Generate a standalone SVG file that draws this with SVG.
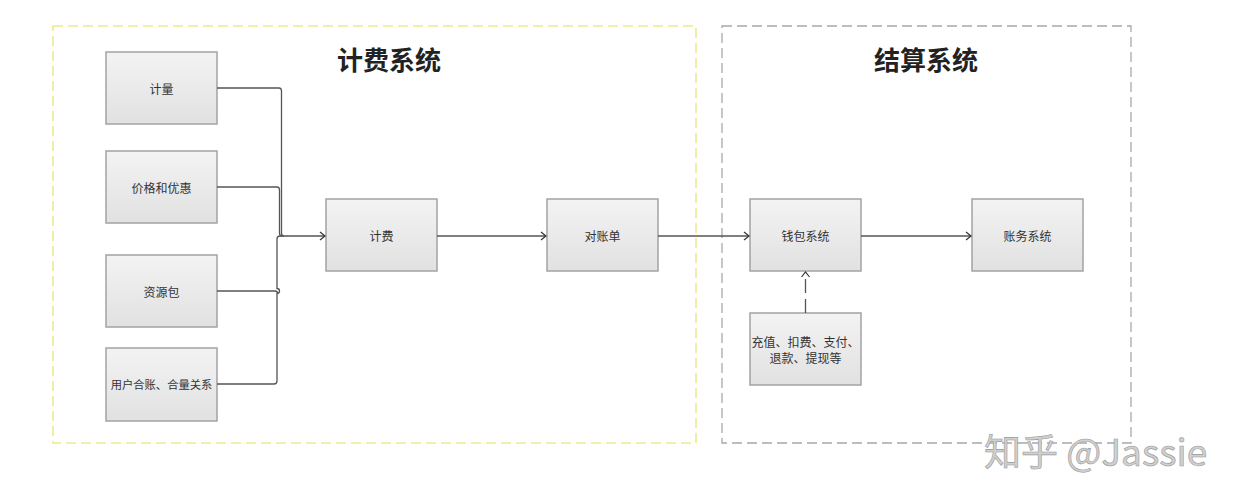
<svg xmlns="http://www.w3.org/2000/svg" width="1240" height="503" viewBox="0 0 1240 503">
<defs>
<linearGradient id="g" x1="0" y1="0" x2="0" y2="1">
<stop offset="0" stop-color="#f3f3f3"/>
<stop offset="1" stop-color="#e1e1e1"/>
</linearGradient>
<marker id="arr" markerWidth="10" markerHeight="10" refX="9" refY="5" orient="auto" markerUnits="userSpaceOnUse">
<path d="M4,1 L9,5 L4,9" fill="none" stroke="#333" stroke-width="1.2"/>
</marker>
</defs>
<style>
.box{fill:url(#g);stroke:#a3a3a3;stroke-width:1.5}
.lbl{font-family:"Noto Sans CJK SC",sans-serif;font-size:12px;fill:#333;text-anchor:middle;dominant-baseline:central}
.title{font-family:"Noto Sans CJK SC",sans-serif;font-size:26px;font-weight:bold;fill:#222;text-anchor:middle;dominant-baseline:central}
.ln{fill:none;stroke:#555;stroke-width:1.3}
</style>
<rect width="1240" height="503" fill="#fff"/>
<g id="billing-system">
<rect x="53" y="26" width="643" height="417" fill="none" stroke="#ecec8c" stroke-width="1.6" stroke-dasharray="10,5"/>
<text class="title" x="389" y="58">计费系统</text>
</g>
<g id="settlement-system">
<rect x="722" y="26" width="409" height="417" fill="none" stroke="#a8a8a8" stroke-width="1.3" stroke-dasharray="10,5"/>
<text class="title" x="926" y="58">结算系统</text>
</g>
<g id="n-metering"><rect class="box" x="106" y="52" width="111" height="72"/><text class="lbl" x="161.5" y="88">计量</text></g>
<g id="n-price"><rect class="box" x="106" y="151" width="111" height="72"/><text class="lbl" x="161.5" y="187">价格和优惠</text></g>
<g id="n-package"><rect class="box" x="106" y="255" width="111" height="72"/><text class="lbl" x="161.5" y="291">资源包</text></g>
<g id="n-account"><rect class="box" x="106" y="348" width="111" height="73"/><text class="lbl" x="161.5" y="384" style="font-size:11.3px">用户合账、合量关系</text></g>
<g id="n-billing"><rect class="box" x="326" y="199" width="111" height="72"/><text class="lbl" x="381.5" y="235">计费</text></g>
<g id="n-statement"><rect class="box" x="547" y="199" width="111" height="72"/><text class="lbl" x="602.5" y="235">对账单</text></g>
<g id="n-wallet"><rect class="box" x="750" y="199" width="111" height="72"/><text class="lbl" x="805.5" y="235">钱包系统</text></g>
<g id="n-ledger"><rect class="box" x="972" y="199" width="111" height="72"/><text class="lbl" x="1027.5" y="235">账务系统</text></g>
<g id="n-ops"><rect class="box" x="750" y="313" width="111" height="72"/><text class="lbl" x="805.5" y="341">充值、扣费、支付、</text><text class="lbl" x="805.5" y="357">退款、提现等</text></g>
<g id="connectors">
<path class="ln" d="M217,88 H279 Q281.5,88 281.5,91 V233 Q281.5,236 284,236"/>
<path class="ln" d="M217,187 H277 Q279.5,187 279.5,190 V233 Q279.5,236 282,236"/>
<path class="ln" d="M217,291 H275 A2.5,2.5 0 0 1 277.5,293.5"/>
<path class="ln" d="M217,384 H274 Q277,384 277,381 V293.5 A2.5,2.5 0 0 0 277,288.5 V239 Q277,236 280,236"/>
<path class="ln" d="M280,236 H325" stroke-width="1.6" marker-end="url(#arr)"/>
<path class="ln" d="M437,236 H546" marker-end="url(#arr)"/>
<path class="ln" d="M658,236 H749" marker-end="url(#arr)"/>
<path class="ln" d="M861,236 H971" marker-end="url(#arr)"/>
<path class="ln" d="M805.5,313 V272" stroke-dasharray="14,6" marker-end="url(#arr)"/>
</g>
<text x="984" y="466" font-family="'Noto Sans CJK SC',sans-serif" font-size="37" fill="#d0d0d0" stroke="#9a9a9a" stroke-width="0.6">知乎 @Jassie</text>
</svg>
